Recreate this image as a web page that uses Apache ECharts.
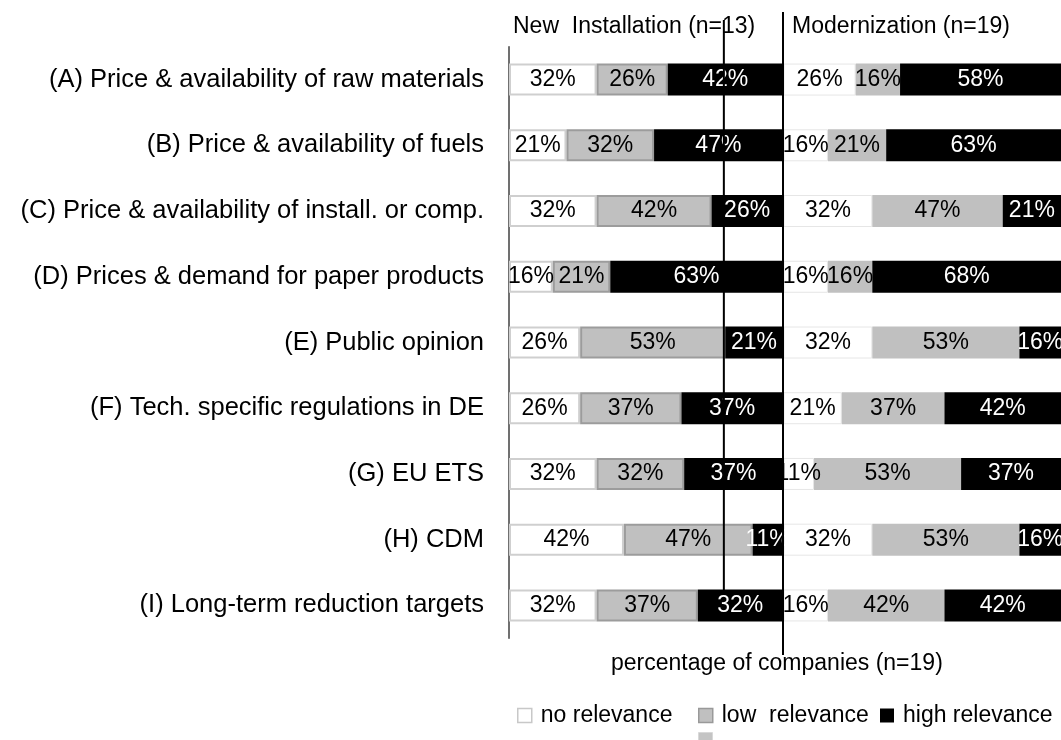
<!DOCTYPE html>
<html>
<head>
<meta charset="utf-8">
<script src="https://cdn.jsdelivr.net/npm/echarts@6/dist/echarts.min.js"></script>
</head>
<body style="margin:0">
<div id="main" style="width:1061px;height:740px"></div>
<script>
var categories = [
    '(A) Price & availability of raw materials',
    '(B) Price & availability of fuels',
    '(C) Price & availability of install. or comp.',
    '(D) Prices & demand for paper products',
    '(E) Public opinion',
    '(F) Tech. specific regulations in DE',
    '(G) EU ETS',
    '(H) CDM',
    '(I) Long-term reduction targets'
];
// New Installation (n=13)
var newNo   = [32, 21, 32, 16, 26, 26, 32, 42, 32];
var newLow  = [26, 32, 42, 21, 53, 37, 32, 47, 37];
var newHigh = [42, 47, 26, 63, 21, 37, 37, 11, 32];
// Modernization (n=19)
var modNo   = [26, 16, 32, 16, 32, 21, 11, 32, 16];
var modLow  = [16, 21, 47, 16, 53, 37, 53, 53, 42];
var modHigh = [58, 63, 21, 68, 16, 42, 37, 16, 42];

var font = 'Liberation Sans, Arial, sans-serif';
var gridTop = 46.7, gridH = 591.6;

function lbl(color) {
    return {show: true, position: 'inside', formatter: '{c}%', fontSize: 23,
        fontFamily: font, color: color};
}
function bar(name, data, idx, stack, style, txt) {
    return {name: name, type: 'bar', stack: stack, xAxisIndex: idx, yAxisIndex: idx,
        data: data, barWidth: 32, itemStyle: style, label: lbl(txt), emphasis: {disabled: true}};
}
function leg(name, left, top, style) {
    return {data: [name], left: left, top: top, padding: 0, itemWidth: 14, itemHeight: 14,
        selectedMode: false, icon: 'rect', itemStyle: style,
        textStyle: {fontSize: 23, fontFamily: font, color: '#000', padding: [0, 0, 0, 4]}};
}

var chart = echarts.init(document.getElementById('main'));
var option = {
    animation: false,
    backgroundColor: '#fff',
    title: [
        {text: 'New  Installation (n=13)', left: 513, top: 15, padding: 0,
            textStyle: {fontSize: 23, fontWeight: 'normal', fontFamily: font, color: '#000'}},
        {text: 'Modernization (n=19)', left: 792, top: 15, padding: 0,
            textStyle: {fontSize: 23, fontWeight: 'normal', fontFamily: font, color: '#000'}},
        {text: 'percentage of companies (n=19)', left: 611, top: 652, padding: 0,
            textStyle: {fontSize: 23, fontWeight: 'normal', fontFamily: font, color: '#000'}}
    ],
    legend: [
        leg('no relevance', 517, 704, {color: '#fff', borderColor: '#c8c8c8', borderWidth: 1.5}),
        leg('low  relevance', 698, 704, {color: '#c0c0c0', borderColor: '#999', borderWidth: 1.5}),
        leg('high relevance', 880, 704, {color: '#000', borderWidth: 0}),
        leg(' ', 698, 728, {color: '#c4c4c4', borderColor: '#d8d8d8', borderWidth: 1})
    ],
    grid: [
        {left: 509, top: gridTop, width: 273.7, height: gridH},
        {left: 783.5, top: gridTop, width: 277.5, height: gridH}
    ],
    xAxis: [
        {gridIndex: 0, type: 'value', min: 0, max: 100, show: false},
        {gridIndex: 1, type: 'value', min: 0, max: 100, show: false}
    ],
    yAxis: [
        {gridIndex: 0, type: 'category', inverse: true, data: categories,
            axisTick: {show: false}, splitLine: {show: false},
            axisLine: {show: true, lineStyle: {color: '#404040', width: 1.5}},
            axisLabel: {margin: 25, fontSize: 25.5, fontFamily: font, color: '#000'}},
        {gridIndex: 1, type: 'category', inverse: true, data: categories, show: false}
    ],
    series: [
        bar('no relevance', newNo, 0, 'new', {color: '#fff', borderColor: '#cfcfcf', borderWidth: 2}, '#000'),
        bar('low  relevance', newLow, 0, 'new', {color: '#c0c0c0', borderColor: '#9c9c9c', borderWidth: 2}, '#000'),
        bar('high relevance', newHigh, 0, 'new', {color: '#000'}, '#fff'),
        bar('no relevance', modNo, 1, 'mod', {color: '#fff', borderColor: '#e6e6e6', borderWidth: 1}, '#000'),
        bar(' ', modLow, 1, 'mod', {color: '#c0c0c0'}, '#000'),
        bar('high relevance', modHigh, 1, 'mod', {color: '#000'}, '#fff')
    ]
};
chart.setOption(option);

// vertical reference lines
var innerX = chart.convertToPixel({xAxisIndex: 0}, 78.5);
var sepX = chart.convertToPixel({xAxisIndex: 1}, 0) - 0.5;
chart.setOption({
    graphic: [
        {type: 'line', shape: {x1: innerX, y1: 20, x2: innerX, y2: 590}, z: 100,
            style: {stroke: '#000', lineWidth: 2}},
        {type: 'line', shape: {x1: sepX, y1: 12, x2: sepX, y2: 655}, z: 100,
            style: {stroke: '#000', lineWidth: 2}}
    ]
});
</script>
</body>
</html>
